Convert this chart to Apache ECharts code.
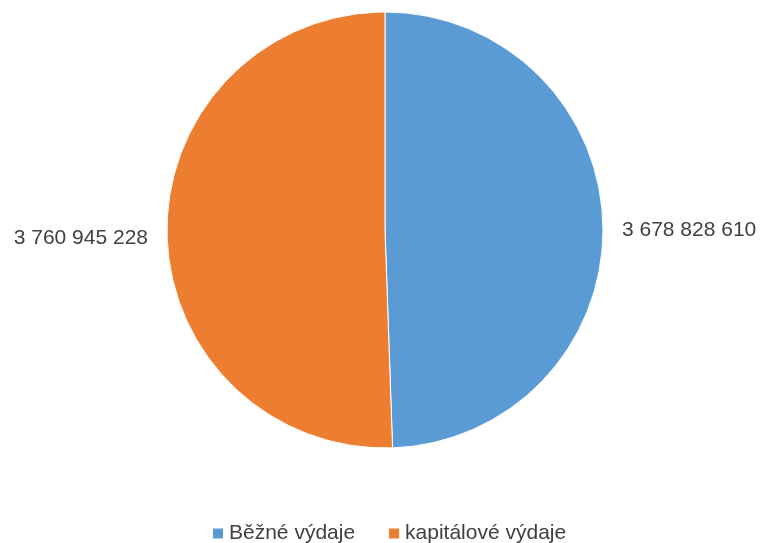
<!DOCTYPE html>
<html>
<head>
<meta charset="utf-8">
<script src="https://cdn.jsdelivr.net/npm/echarts@6/dist/echarts.min.js"></script>
<style>html,body{margin:0;padding:0;background:#fff;}#c{width:762px;height:543px;}</style>
</head>
<body>
<div id="c"></div>
<script>
const categories = ['Běžné výdaje', 'kapitálové výdaje'];
const values = [3678828610, 3760945228];
const colors = ['#5B9BD5', '#ED7D31'];

function fmt(v) {
  return String(v).replace(/\B(?=(\d{3})+(?!\d))/g, ' ');
}

const chart = echarts.init(document.getElementById('c'), null, {renderer: 'canvas'});
chart.setOption({
  animation: false,
  color: colors,
  legend: {
    left: 206,
    top: 518,
    itemWidth: 12,
    itemHeight: 12,
    itemGap: 32,
    icon: 'rect',
    textStyle: {fontFamily: 'Liberation Sans', fontSize: 21, color: '#404040'},
    data: categories
  },
  series: [{
    type: 'pie',
    center: [385, 230],
    radius: 218,
    startAngle: 90,
    clockwise: true,
    avoidLabelOverlap: false,
    itemStyle: {borderColor: '#fff', borderWidth: 1},
    label: {
      show: true,
      position: 'outside',
      formatter: p => fmt(p.value),
      fontFamily: 'Liberation Sans',
      fontSize: 21,
      color: '#404040'
    },
    labelLine: {show: false, length: 0, length2: 14},
    labelLayout: {dy: 4},
    emphasis: {disabled: true},
    data: categories.map((c, i) => ({name: c, value: values[i]}))
  }]
});
</script>
</body>
</html>
